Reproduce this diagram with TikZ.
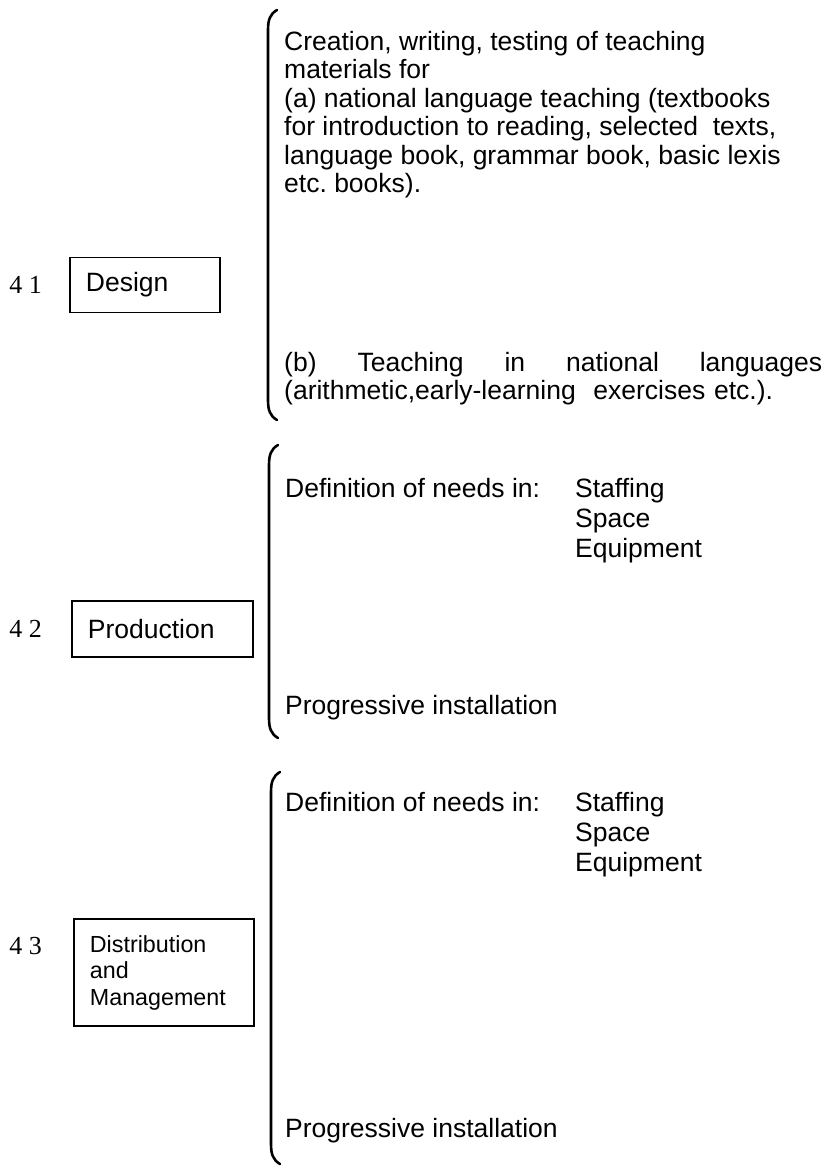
\documentclass[tikz,border=0pt]{standalone}
\usepackage{fontspec}
\setmainfont{Liberation Sans}
\newfontfamily\numfont{Liberation Serif}
\usetikzlibrary{positioning}
\frenchspacing

\begin{document}
\begin{tikzpicture}[x=1pt,y=-1pt,
    stage/.style={draw,line width=1.8pt,anchor=west,align=left,inner xsep=16pt,inner ysep=0pt,
                  font=\fontsize{26.5}{28.5}\selectfont},
    num/.style={font=\numfont\fontsize{26}{28}\selectfont,inner sep=0pt},
    item/.style={anchor=north west,align=left,inner sep=0pt,font=\fontsize{26.5}{28.5}\selectfont},
    list/.style={item,font=\fontsize{26.5}{29.8}\selectfont},
    bar/.style={line width=2.6pt,line cap=round}]
    \useasboundingbox (0,0) rectangle (825,1167);

    % Stages
    \node[stage,text width=118pt,minimum height=55pt] (design) at (69,285) {Design};
    \node[stage,text width=149pt,minimum height=56pt] (prod) at (71,629) {Production};
    \node[stage,text width=148pt,minimum height=107pt,
          font=\fontsize{23.3}{26.5}\selectfont] (distr) at (73,972.5)
          {Distribution\\and\\Management};

    \node[num,left=27pt of design] (n41) {4 1};
    \node[num,left=29pt of prod] (n42) {4 2};
    \node[num,anchor=east] (n43) at ([xshift=-31pt,yshift=-28pt]distr.north west) {4 3};

    % Braces
    \foreach \bx/\bt/\bb in {268/10/420, 269/445/738, 271/772/1164} {
        \draw[bar] (\bx+9,\bt) .. controls (\bx+2,\bt+4) and (\bx,\bt+10) .. (\bx,\bt+20)
            -- (\bx,\bb-20) .. controls (\bx,\bb-10) and (\bx+2,\bb-4) .. (\bx+9,\bb);
    }

    % Design
    \node[item] (matA) at (284,31) {Creation, writing, testing of teaching\\
        materials for\\
        (a) national language teaching (textbooks\\
        for introduction to reading, selected\ \ texts,\\
        language book, grammar book, basic lexis\\
        etc. books).};
    \node[item,text width=538pt] (matB) at (284,352)
        {\makebox[538pt][s]{(b)\hfill Teaching\hfill in\hfill national\hfill languages}\\
        (arithmetic,early-learning\ \ exercises etc.).};

    % Production
    \node[item] (needP) at (285,478) {Definition of needs in:};
    \node[list] (resP) at (575,478) {Staffing\\Space\\Equipment};
    \node[item] (instP) at (285,695) {Progressive installation};

    % Distribution and management
    \node[item] (needD) at (285,792) {Definition of needs in:};
    \node[list] (resD) at (575,792) {Staffing\\Space\\Equipment};
    \node[item] (instD) at (285,1118) {Progressive installation};
\end{tikzpicture}
\end{document}
